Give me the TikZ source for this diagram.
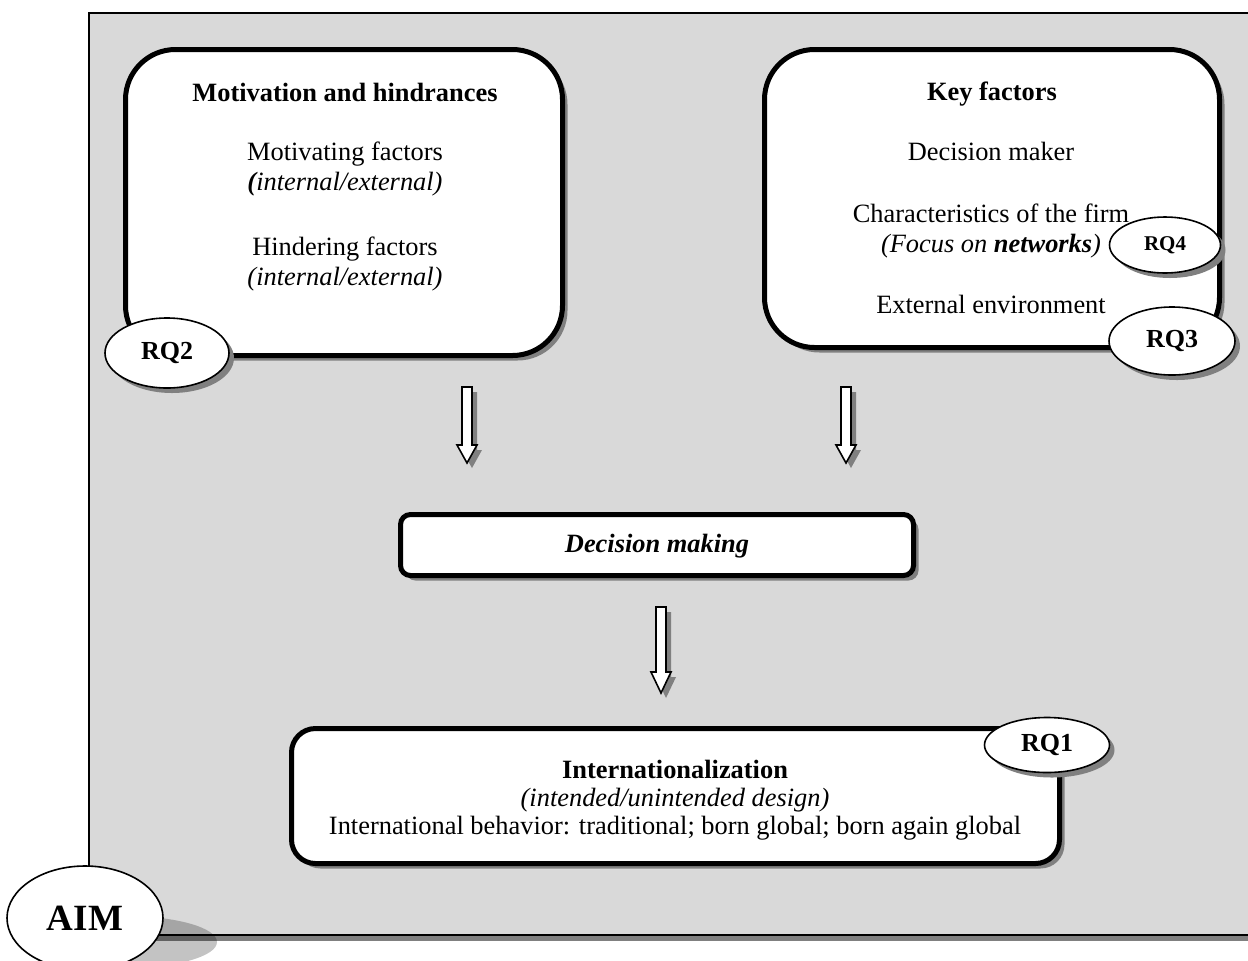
\documentclass[tikz,border=0pt]{standalone}
\usepackage{fontspec}
\setmainfont{Liberation Serif}
\usetikzlibrary{shadows,shapes.geometric}
\definecolor{bggray}{HTML}{D9D9D9}
\definecolor{shgray}{HTML}{808080}
\tikzset{
  shad/.style={drop shadow={shadow xshift=2.5pt,shadow yshift=-2.5pt,fill=shgray,opacity=1}},
  bigbox/.style={draw=black,line width=2.5pt,fill=white,shad,rectangle,inner sep=0pt},
  rq/.style={draw=black,line width=0.8pt,fill=white,ellipse,inner sep=0pt,shad,font=\bfseries\fontsize{13pt}{15pt}\selectfont},
  txt/.style={font=\fontsize{13.2pt}{15.2pt}\selectfont,anchor=base,inner sep=0pt},
  dnarrow/.style={draw=black,line width=0.8pt,fill=white,shad,line join=miter}
}
\begin{document}
\begin{tikzpicture}[x=0.5pt,y=-0.5pt]
\useasboundingbox (0,0) rectangle (1248,960);
% outer frame
\draw[fill=bggray,line width=1pt,drop shadow={shadow xshift=3pt,shadow yshift=-3pt,fill=shgray,opacity=1}] (89,13) rectangle (1300,935);
% boxes
\node[bigbox,rounded corners=25pt,minimum width=218.5pt,minimum height=153pt] (mot) at (344,202.5) {};
\node[bigbox,rounded corners=25pt,minimum width=227.5pt,minimum height=149pt] (key) at (992,198.5) {};
\node[bigbox,rounded corners=5pt,minimum width=256.5pt,minimum height=30.5pt] (dec) at (657,545) {};
\node[bigbox,rounded corners=12pt,minimum width=384pt,minimum height=67.5pt] (int) at (675.5,796) {};
% texts box 1
\node[txt,font=\bfseries\fontsize{13.2pt}{15.2pt}\selectfont] (t1) at (345,101) {Motivation and hindrances};
\node[txt] (t2) at (345,160) {Motivating factors};
\node[txt] (t3) at (345,190) {\textit{\textbf{(}internal/external)}};
\node[txt] (t4) at (345,255) {Hindering factors};
\node[txt] (t5) at (345,285) {\textit{(internal/external)}};
% texts box 2
\node[txt,font=\bfseries\fontsize{13.2pt}{15.2pt}\selectfont] (k1) at (992,100) {Key factors};
\node[txt] (k2) at (991,160) {Decision maker};
\node[txt] (k3) at (991,222) {Characteristics of the firm};
\node[txt] (k4) at (991,252) {\textit{(Focus on \textbf{networks})}};
\node[txt] (k5) at (991,313) {External environment};
% decision
\node[txt,font=\bfseries\itshape\fontsize{13.2pt}{15.2pt}\selectfont] (d1) at (657,552) {Decision making};
% internationalization
\node[txt,font=\bfseries\fontsize{13.2pt}{15.2pt}\selectfont] (i1) at (675,778) {Internationalization};
\node[txt] (i2) at (675,806) {\textit{(intended/unintended design)}};
\node[txt] (i3) at (675,834) {International behavior: traditional; born global; born again global};
% RQ ellipses
\node[rq,minimum width=62pt,minimum height=35pt] (rq2) at (167,353) {RQ2};
\node[rq,minimum width=55.5pt,minimum height=28pt,font=\bfseries\fontsize{10.5pt}{12pt}\selectfont] (rq4) at (1165,245) {RQ4};
\node[rq,minimum width=63pt,minimum height=34pt] (rq3) at (1172,341) {RQ3};
\node[rq,minimum width=62.5pt,minimum height=27.5pt] (rq1) at (1047,745) {RQ1};
% arrows
\draw[dnarrow] (462,387) -- (472,387) -- (472,445) -- (477,445) -- (467,463) -- (457,445) -- (462,445) -- cycle;
\draw[dnarrow] (841,387) -- (851,387) -- (851,445) -- (856,445) -- (846,463) -- (836,445) -- (841,445) -- cycle;
\draw[dnarrow] (656,607) -- (666,607) -- (666,672) -- (671,672) -- (661,693) -- (651,672) -- (656,672) -- cycle;
% AIM
\fill[black,opacity=0.235] (125,942) ellipse [x radius=92,y radius=26];
\node[draw=black,line width=0.8pt,fill=white,ellipse,inner sep=0pt,minimum width=78pt,minimum height=52pt,font=\bfseries\fontsize{18.5pt}{20pt}\selectfont] (aim) at (85,918) {AIM};
\end{tikzpicture}
\end{document}
